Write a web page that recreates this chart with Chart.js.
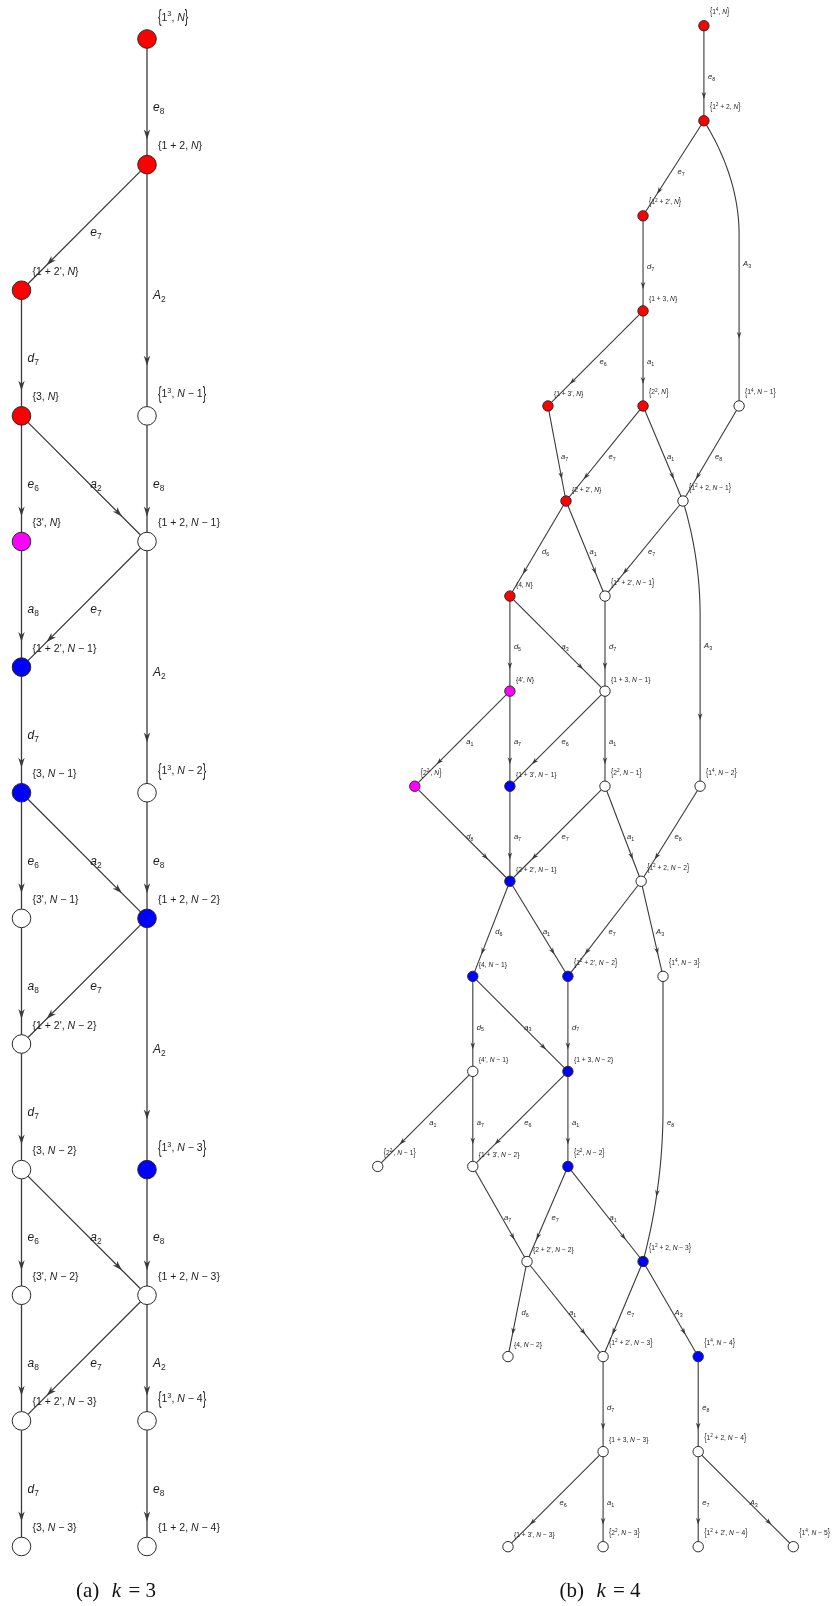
<!DOCTYPE html>
<html>
<head>
<meta charset="utf-8">
<script src="https://cdn.jsdelivr.net/npm/chart.js@4.4.1/dist/chart.umd.min.js"></script>
<style>
  body { margin: 0; background: #fff; }
  #page { position: relative; width: 835px; height: 1606px; }
  canvas { position: absolute; top: 0; }
  #cvA { left: 0; }
  #cvB { left: 300px; }
  .cap { position: absolute; top: 1578px; font-family: "Liberation Serif", "DejaVu Serif", serif; font-size: 21px; color: #111; white-space: pre; transform: translateX(-50%); }
  .cap i { margin: 0 2px; }
</style>
</head>
<body>
<div id="page">
  <canvas id="cvA" width="300" height="1606"></canvas>
  <canvas id="cvB" width="535" height="1606"></canvas>
  <div class="cap" style="left:116px">(a)  <i>k</i> = 3</div>
  <div class="cap" style="left:600px">(b)  <i>k</i> = 4</div>
</div>
<script>
// ---- k = 3 : nodes (column, level, state) ----
const namesA = [
  "{1^3, N}", "{1 + 2, N}", "{1 + 2', N}", "{3, N}", "{1^3, N − 1}",
  "{3', N}", "{1 + 2, N − 1}", "{1 + 2', N − 1}", "{3, N − 1}", "{1^3, N − 2}",
  "{3', N − 1}", "{1 + 2, N − 2}", "{1 + 2', N − 2}", "{3, N − 2}", "{1^3, N − 3}",
  "{3', N − 2}", "{1 + 2, N − 3}", "{1 + 2', N − 3}", "{1^3, N − 4}", "{3, N − 3}",
  "{1 + 2, N − 4}"
];
const colA   = [1, 1, 0, 0, 1, 0, 1, 0, 0, 1, 0, 1, 0, 0, 1, 0, 1, 0, 1, 0, 1];
const levelA = [0, 1, 2, 3, 3, 4, 4, 5, 6, 6, 7, 7, 8, 9, 9, 10, 10, 11, 11, 12, 12];
const stateA = ['r','r','r','r','w','m','w','b','b','w','w','b','w','w','b','w','w','w','w','w','w'];

const edgesA = [
  ["{1^3, N}", "{1 + 2, N}", "e_8"],
  ["{1 + 2, N}", "{1 + 2', N}", "e_7"],
  ["{1 + 2, N}", "{1^3, N − 1}", "A_2"],
  ["{1 + 2', N}", "{3, N}", "d_7"],
  ["{3, N}", "{3', N}", "e_6"],
  ["{3, N}", "{1 + 2, N − 1}", "a_2"],
  ["{1^3, N − 1}", "{1 + 2, N − 1}", "e_8"],
  ["{3', N}", "{1 + 2', N − 1}", "a_8"],
  ["{1 + 2, N − 1}", "{1 + 2', N − 1}", "e_7"],
  ["{1 + 2, N − 1}", "{1^3, N − 2}", "A_2"],
  ["{1 + 2', N − 1}", "{3, N − 1}", "d_7"],
  ["{3, N − 1}", "{3', N − 1}", "e_6"],
  ["{3, N − 1}", "{1 + 2, N − 2}", "a_2"],
  ["{1^3, N − 2}", "{1 + 2, N − 2}", "e_8"],
  ["{3', N − 1}", "{1 + 2', N − 2}", "a_8"],
  ["{1 + 2, N − 2}", "{1 + 2', N − 2}", "e_7"],
  ["{1 + 2, N − 2}", "{1^3, N − 3}", "A_2"],
  ["{1 + 2', N − 2}", "{3, N − 2}", "d_7"],
  ["{3, N − 2}", "{3', N − 2}", "e_6"],
  ["{3, N − 2}", "{1 + 2, N − 3}", "a_2"],
  ["{1^3, N − 3}", "{1 + 2, N − 3}", "e_8"],
  ["{3', N − 2}", "{1 + 2', N − 3}", "a_8"],
  ["{1 + 2, N − 3}", "{1 + 2', N − 3}", "e_7"],
  ["{1 + 2, N − 3}", "{1^3, N − 4}", "A_2"],
  ["{1 + 2', N − 3}", "{3, N − 3}", "d_7"],
  ["{1^3, N − 4}", "{1 + 2, N − 4}", "e_8"]
];

// ---- k = 4 : nodes (layout x, level, state) ----
const namesB = [
  "{1^4, N}", "{1^2 + 2, N}", "{1^2 + 2', N}", "{1 + 3, N}",
  "{1 + 3', N}", "{2^2, N}", "{1^4, N − 1}",
  "{2 + 2', N}", "{1^2 + 2, N − 1}",
  "{4, N}", "{1^2 + 2', N − 1}",
  "{4', N}", "{1 + 3, N − 1}",
  "{2^2', N}", "{1 + 3', N − 1}", "{2^2, N − 1}", "{1^4, N − 2}",
  "{2 + 2', N − 1}", "{1^2 + 2, N − 2}",
  "{4, N − 1}", "{1^2 + 2', N − 2}", "{1^4, N − 3}",
  "{4', N − 1}", "{1 + 3, N − 2}",
  "{2^2', N − 1}", "{1 + 3', N − 2}", "{2^2, N − 2}",
  "{2 + 2', N − 2}", "{1^2 + 2, N − 3}",
  "{4, N − 2}", "{1^2 + 2', N − 3}", "{1^4, N − 4}",
  "{1 + 3, N − 3}", "{1^2 + 2, N − 4}",
  "{1 + 3', N − 3}", "{2^2, N − 3}", "{1^2 + 2', N − 4}", "{1^4, N − 5}"
];
const xB = [
  3.43, 3.43, 2.79, 2.79,
  1.79, 2.79, 3.80,
  1.98, 3.21,
  1.39, 2.39,
  1.39, 2.39,
  0.39, 1.39, 2.39, 3.39,
  1.39, 2.77,
  1.00, 2.00, 3.00,
  1.00, 2.00,
  0.00, 1.00, 2.00,
  1.57, 2.79,
  1.37, 2.37, 3.37,
  2.37, 3.37,
  1.37, 2.37, 3.37, 4.37
];
const levelB = [
  0, 1, 2, 3,
  4, 4, 4,
  5, 5,
  6, 6,
  7, 7,
  8, 8, 8, 8,
  9, 9,
  10, 10, 10,
  11, 11,
  12, 12, 12,
  13, 13,
  14, 14, 14,
  15, 15,
  16, 16, 16, 16
];
const stateB = [
  'r','r','r','r',
  'r','r','w',
  'r','w',
  'r','w',
  'm','w',
  'm','b','w','w',
  'b','w',
  'b','b','w',
  'w','b',
  'w','w','b',
  'w','b',
  'w','w','b',
  'w','w',
  'w','w','w','w'
];

// edges; optional bend point [x, level] where a curved edge turns vertical
const edgesB = [
  ["{1^4, N}", "{1^2 + 2, N}", "e_8"],
  ["{1^2 + 2, N}", "{1^2 + 2', N}", "e_7"],
  ["{1^2 + 2, N}", "{1^4, N − 1}", "A_3", [3.80, 2.2]],
  ["{1^2 + 2', N}", "{1 + 3, N}", "d_7"],
  ["{1 + 3, N}", "{1 + 3', N}", "e_6"],
  ["{1 + 3, N}", "{2^2, N}", "a_1"],
  ["{1 + 3', N}", "{2 + 2', N}", "a_7"],
  ["{2^2, N}", "{2 + 2', N}", "e_7"],
  ["{2^2, N}", "{1^2 + 2, N − 1}", "a_1"],
  ["{1^4, N − 1}", "{1^2 + 2, N − 1}", "e_8"],
  ["{2 + 2', N}", "{4, N}", "d_6"],
  ["{2 + 2', N}", "{1^2 + 2', N − 1}", "a_1"],
  ["{1^2 + 2, N − 1}", "{1^2 + 2', N − 1}", "e_7"],
  ["{1^2 + 2, N − 1}", "{1^4, N − 2}", "A_3", [3.39, 6.2]],
  ["{4, N}", "{4', N}", "d_5"],
  ["{4, N}", "{1 + 3, N − 1}", "a_3"],
  ["{1^2 + 2', N − 1}", "{1 + 3, N − 1}", "d_7"],
  ["{4', N}", "{2^2', N}", "a_1"],
  ["{4', N}", "{1 + 3', N − 1}", "a_7"],
  ["{1 + 3, N − 1}", "{1 + 3', N − 1}", "e_6"],
  ["{1 + 3, N − 1}", "{2^2, N − 1}", "a_1"],
  ["{2^2', N}", "{2 + 2', N − 1}", "d_8"],
  ["{1 + 3', N − 1}", "{2 + 2', N − 1}", "a_7"],
  ["{2^2, N − 1}", "{2 + 2', N − 1}", "e_7"],
  ["{2^2, N − 1}", "{1^2 + 2, N − 2}", "a_1"],
  ["{1^4, N − 2}", "{1^2 + 2, N − 2}", "e_8"],
  ["{2 + 2', N − 1}", "{4, N − 1}", "d_6"],
  ["{2 + 2', N − 1}", "{1^2 + 2', N − 2}", "a_1"],
  ["{1^2 + 2, N − 2}", "{1^2 + 2', N − 2}", "e_7"],
  ["{1^2 + 2, N − 2}", "{1^4, N − 3}", "A_3"],
  ["{4, N − 1}", "{4', N − 1}", "d_5"],
  ["{4, N − 1}", "{1 + 3, N − 2}", "a_3"],
  ["{1^2 + 2', N − 2}", "{1 + 3, N − 2}", "d_7"],
  ["{4', N − 1}", "{2^2', N − 1}", "a_1"],
  ["{4', N − 1}", "{1 + 3', N − 2}", "a_7"],
  ["{1 + 3, N − 2}", "{1 + 3', N − 2}", "e_6"],
  ["{1 + 3, N − 2}", "{2^2, N − 2}", "a_1"],
  ["{1^4, N − 3}", "{1^2 + 2, N − 3}", "e_8", [3.00, 11.4]],
  ["{1 + 3', N − 2}", "{2 + 2', N − 2}", "a_7"],
  ["{2^2, N − 2}", "{2 + 2', N − 2}", "e_7"],
  ["{2^2, N − 2}", "{1^2 + 2, N − 3}", "a_1"],
  ["{2 + 2', N − 2}", "{4, N − 2}", "d_6"],
  ["{2 + 2', N − 2}", "{1^2 + 2', N − 3}", "a_1"],
  ["{1^2 + 2, N − 3}", "{1^2 + 2', N − 3}", "e_7"],
  ["{1^2 + 2, N − 3}", "{1^4, N − 4}", "A_3"],
  ["{1^2 + 2', N − 3}", "{1 + 3, N − 3}", "d_7"],
  ["{1^4, N − 4}", "{1^2 + 2, N − 4}", "e_8"],
  ["{1 + 3, N − 3}", "{1 + 3', N − 3}", "e_6"],
  ["{1 + 3, N − 3}", "{2^2, N − 3}", "a_1"],
  ["{1^2 + 2, N − 4}", "{1^2 + 2', N − 4}", "e_7"],
  ["{1^2 + 2, N − 4}", "{1^4, N − 5}", "A_3"]
];

const FILL = { r: '#ff0000', b: '#0000ff', m: '#ff00ff', w: '#ffffff' };
const SANS = '"Liberation Sans", Arial, sans-serif';

// small math-ish text: ^x superscript, _x subscript, letters italic, tall braces when superscripted
function drawRich(ctx, str, x, y, size) {
  const tall = str.includes('^');
  let cx = x;
  for (let i = 0; i < str.length; i++) {
    let ch = str[i], fs = size, dy = 0;
    if (ch === '^' || ch === '_') {
      fs = size * 0.7;
      dy = ch === '^' ? -size * 0.42 : size * 0.25;
      ch = str[++i];
    }
    ctx.font = (/[A-Za-z]/.test(ch) ? 'italic ' : '') + fs + 'px ' + SANS;
    const w = ctx.measureText(ch).width;
    if (tall && (ch === '{' || ch === '}')) {
      ctx.save();
      ctx.translate(cx, y - size * 0.3);
      ctx.scale(1, 1.7);
      ctx.fillText(ch, 0, size * 0.27);
      ctx.restore();
    } else {
      ctx.fillText(ch, cx, y + dy);
    }
    cx += w;
  }
}

function quad(a, q, b, t) {
  const u = 1 - t;
  return { x: u * u * a.x + 2 * u * t * q.x + t * t * b.x, y: u * u * a.y + 2 * u * t * q.y + t * t * b.y };
}

function pointAlong(pts, frac) {
  const seg = [];
  let total = 0;
  for (let i = 1; i < pts.length; i++) {
    const l = Math.hypot(pts[i].x - pts[i - 1].x, pts[i].y - pts[i - 1].y);
    seg.push(l); total += l;
  }
  let d = total * frac;
  for (let i = 0; i < seg.length; i++) {
    if (d <= seg[i] || i === seg.length - 1) {
      const a = pts[i], b = pts[i + 1], t = seg[i] ? d / seg[i] : 0;
      return { x: a.x + (b.x - a.x) * t, y: a.y + (b.y - a.y) * t, ang: Math.atan2(b.y - a.y, b.x - a.x) };
    }
    d -= seg[i];
  }
}

const graphPlugin = {
  id: 'graph',
  beforeDatasetsDraw(chart, args, o) {
    const { ctx, scales: { x, y } } = chart;
    const pos = o.pos;
    chart.$paths = o.edges.map(e => {
      const s = pos[e[0]], t = pos[e[1]];
      const S = { x: x.getPixelForValue(s.x), y: y.getPixelForValue(s.y) };
      const T = { x: x.getPixelForValue(t.x), y: y.getPixelForValue(t.y) };
      if (!e[3]) return [S, T];
      const V = { x: x.getPixelForValue(e[3][0]), y: y.getPixelForValue(e[3][1]) };
      const pts = [];
      if (e[3][0] === t.x) {
        const Q = { x: V.x, y: S.y + 0.5 * (V.y - S.y) };
        for (let i = 0; i <= 30; i++) pts.push(quad(S, Q, V, i / 30));
        pts.push(T);
      } else {
        pts.push(S);
        const Q = { x: V.x, y: V.y + 0.5 * (T.y - V.y) };
        for (let i = 0; i <= 30; i++) pts.push(quad(V, Q, T, i / 30));
      }
      return pts;
    });
    ctx.save();
    ctx.strokeStyle = '#3a3a3a';
    ctx.fillStyle = '#3a3a3a';
    ctx.lineWidth = o.lw;
    chart.$paths.forEach(pts => {
      ctx.beginPath();
      ctx.moveTo(pts[0].x, pts[0].y);
      for (let i = 1; i < pts.length; i++) ctx.lineTo(pts[i].x, pts[i].y);
      ctx.stroke();
      const p = pointAlong(pts, o.arrowAt);
      ctx.save();
      ctx.translate(p.x, p.y);
      ctx.rotate(p.ang);
      ctx.beginPath();
      ctx.moveTo(0, 0);
      ctx.lineTo(-o.al, -o.aw);
      ctx.lineTo(-o.al * 0.7, 0);
      ctx.lineTo(-o.al, o.aw);
      ctx.closePath();
      ctx.fill();
      ctx.restore();
    });
    ctx.restore();
  },
  afterDatasetsDraw(chart, args, o) {
    const { ctx, scales: { x, y } } = chart;
    ctx.save();
    ctx.fillStyle = '#1e1e1e';
    ctx.textBaseline = 'alphabetic';
    // edge labels at the middle of each edge
    chart.$paths.forEach((pts, i) => {
      const m = pointAlong(pts, 0.5);
      drawRich(ctx, o.edges[i][2], m.x + o.elx, m.y + o.ely, o.efs);
    });
    // node labels above-right of each node
    Object.keys(o.pos).forEach(n => {
      const p = o.pos[n];
      const px = x.getPixelForValue(p.x), py = y.getPixelForValue(p.y);
      const up = n.includes('^') ? o.nly2 : o.nly;
      drawRich(ctx, n, px + o.nlx, py - up, o.nfs);
    });
    ctx.restore();
  }
};

function buildGraph(canvas, names, xs, levels, states, edges, look) {
  const pos = {};
  names.forEach((n, i) => { pos[n] = { x: xs[i], y: levels[i] }; });
  return new Chart(canvas, {
    type: 'scatter',
    data: {
      datasets: [{
        data: names.map((n, i) => ({ x: xs[i], y: levels[i] })),
        pointBackgroundColor: states.map(s => FILL[s]),
        pointBorderColor: '#2a2a2a',
        pointBorderWidth: 1,
        pointRadius: look.r,
        pointHoverRadius: look.r,
        clip: false
      }]
    },
    options: {
      responsive: false,
      animation: false,
      events: [],
      devicePixelRatio: 1,
      layout: { padding: look.pad },
      plugins: {
        legend: { display: false },
        tooltip: { enabled: false },
        graph: Object.assign({ pos, edges }, look)
      },
      scales: {
        x: { type: 'linear', display: false, min: look.xmin, max: look.xmax },
        y: { type: 'linear', display: false, min: 0, max: look.ymax, reverse: true }
      }
    },
    plugins: [graphPlugin]
  });
}

buildGraph(document.getElementById('cvA'), namesA, colA, levelA, stateA, edgesA, {
  pad: { left: 21.5, right: 153, top: 39, bottom: 59.5 },
  xmin: 0, xmax: 1, ymax: 12,
  r: 9.3, lw: 1.3, arrowAt: 0.8, al: 10, aw: 3.2,
  efs: 12, elx: 6, ely: 9,
  nfs: 10.5, nlx: 11, nly: 15.5, nly2: 18.5
});

buildGraph(document.getElementById('cvB'), namesB, xB, levelB, stateB, edgesB, {
  pad: { left: 77.7, right: 41.7, top: 25.7, bottom: 59.3 },
  xmin: 0, xmax: 4.37, ymax: 16,
  r: 5.2, lw: 1.1, arrowAt: 0.77, al: 7, aw: 2.3,
  efs: 7.6, elx: 4, ely: 5.7,
  nfs: 6.7, nlx: 6, nly: 9.5, nly2: 11.5
});
</script>
</body>
</html>
